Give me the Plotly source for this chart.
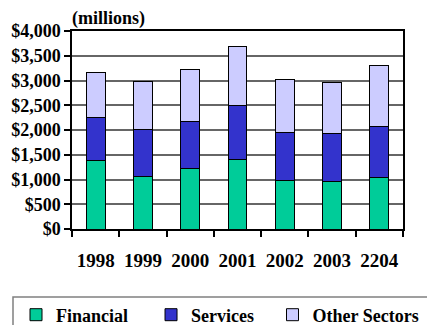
import plotly.graph_objects as go

years = ["1998", "1999", "2000", "2001", "2002", "2003", "2204"]
financial = [1390, 1065, 1220, 1395, 990, 950, 1040]
services = [865, 940, 955, 1100, 960, 975, 1040]
other = [910, 975, 1040, 1200, 1070, 1030, 1230]
series_names = ["Financial", "Services", "Other Sectors"]
colors = ["#00CC99", "#3333CC", "#CCCCFF"]
ytick_vals = [0, 500, 1000, 1500, 2000, 2500, 3000, 3500, 4000]
ytick_text = ["$0", "$500", "$1,000", "$1,500", "$2,000", "$2,500", "$3,000", "$3,500", "$4,000"]

FONT = "'Liberation Serif', 'Times New Roman', Times, serif"
NB = "\u00a0"
legend_pad = [4, 3, 0]

fig = go.Figure()
for name, vals, col, pad in zip(series_names, [financial, services, other], colors, legend_pad):
    fig.add_trace(go.Bar(
        x=years, y=vals, name=name + NB * pad, width=0.4,
        marker=dict(color=col, line=dict(color="#000000", width=1)),
    ))

W, H = 427, 325
ml, mr, mt, mb = 72, 24, 31, 96
pw, ph = W - ml - mr, H - mt - mb

def px_x(x):
    return (x - ml) / pw

def px_y(y):
    return (H - mb - y) / ph

fig.update_layout(
    width=W, height=H,
    margin=dict(l=ml, r=mr, t=mt, b=mb, autoexpand=False),
    barmode="stack",
    plot_bgcolor="white",
    paper_bgcolor="white",
    font=dict(family=FONT, size=17, color="#000000", weight="bold"),
    showlegend=True,
    legend=dict(
        orientation="h",
        x=px_x(16), xanchor="left",
        y=px_y(315), yanchor="middle",
        font=dict(family=FONT, size=18, color="#000", weight="bold"),
        itemwidth=30,
        traceorder="normal",
        bgcolor="rgba(0,0,0,0)",
    ),
    xaxis=dict(
        type="category",
        automargin=False,
        tickangle=0,
        showline=True, linecolor="#000", linewidth=1.5, mirror=True,
        ticks="outside", ticklen=6, tickcolor="#000", tickwidth=1.5,
        tickson="boundaries",
        ticklabelstandoff=13,
        tickfont=dict(family=FONT, size=19, color="#000", weight="bold"),
        showgrid=False,
    ),
    yaxis=dict(
        range=[0, 4000],
        automargin=False,
        tickvals=ytick_vals, ticktext=ytick_text,
        showline=True, linecolor="#000", linewidth=1.5, mirror=True,
        ticks="outside", ticklen=6, tickcolor="#000", tickwidth=1.5,
        showgrid=True, gridcolor="#666666", gridwidth=1.5,
        tickfont=dict(family=FONT, size=18, color="#000", weight="bold"),
        zeroline=False,
    ),
    annotations=[dict(
        text="(millions)", xref="paper", yref="paper",
        x=0, y=1, xanchor="left", yanchor="bottom", yshift=0, xshift=-2,
        showarrow=False,
        font=dict(family=FONT, size=18, color="#000", weight="bold"),
    )],
    shapes=[dict(
        type="rect", xref="paper", yref="paper",
        x0=px_x(13), x1=px_x(440), y0=px_y(340), y1=px_y(297),
        line=dict(color="#808080", width=1.5),
    )],
)

fig.write_html("out.html")
